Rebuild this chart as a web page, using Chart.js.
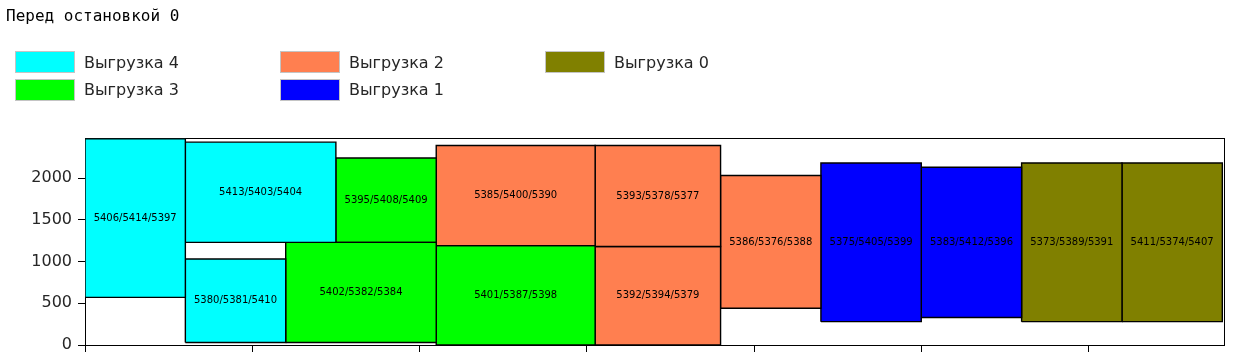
<!DOCTYPE html>
<html>
<head>
<meta charset="utf-8">
<script src="https://cdn.jsdelivr.net/npm/chart.js@4.4.1/dist/chart.umd.min.js"></script>
<style>
  html, body { margin: 0; padding: 0; background: #fff; }
  body { width: 1237px; height: 357px; position: relative; overflow: hidden; }
  #title { position: absolute; left: 6px; top: 6px; font: 16px "DejaVu Sans Mono", monospace; color: #000; white-space: pre; }
  #legend { position: absolute; left: 15px; top: 51px; display: grid; grid-template-rows: 22px 22px; grid-auto-flow: column; grid-auto-columns: 265px; row-gap: 5.6px; }
  .item { display: flex; align-items: center; font: 16px "DejaVu Sans", sans-serif; color: #262626; }
  .patch { width: 58px; height: 20px; border: 1px solid #c4c4c4; margin-right: 9px; flex: none; }
  #wrap { position: absolute; left: 0; top: 0; width: 1237px; height: 361px; }
</style>
</head>
<body>
<div id="wrap"><canvas id="c" width="1237" height="361"></canvas></div>
<div id="title">Перед остановкой 0</div>
<div id="legend"></div>
<script>
const titleText = 'Перед остановкой 0';
const groupNames = ['Выгрузка 4', 'Выгрузка 3', 'Выгрузка 2', 'Выгрузка 1', 'Выгрузка 0'];
const groupIds = [4, 3, 2, 1, 0];
const groupColors = ['#00ffff', '#00ff00', '#ff7f50', '#0000ff', '#808000'];

const boxLabels = ['5406/5414/5397', '5413/5403/5404', '5380/5381/5410', '5402/5382/5384', '5395/5408/5409',
  '5385/5400/5390', '5401/5387/5398', '5393/5378/5377', '5392/5394/5379', '5386/5376/5388',
  '5375/5405/5399', '5383/5412/5396', '5373/5389/5391', '5411/5374/5407'];
const boxGroup = [4, 4, 4, 3, 3, 2, 3, 2, 2, 2, 1, 1, 0, 0];
const xStart = [0, 1200, 1200, 2400, 3000, 4200, 4200, 6100, 6100, 7600, 8800, 10000, 11200, 12400];
const xEnd = [1200, 3000, 2400, 4200, 4200, 6100, 6100, 7600, 7600, 8800, 10000, 11200, 12400, 13600];
const yStart = [570, 1230, 30, 30, 1230, 1190, 0, 1180, 0, 440, 280, 330, 280, 280];
const yEnd = [2470, 2430, 1030, 1230, 2240, 2390, 1190, 2390, 1180, 2030, 2180, 2130, 2180, 2180];

const xTickValues = [0, 2000, 4000, 6000, 8000, 10000, 12000];
const yTickValues = [0, 500, 1000, 1500, 2000];
const xMin = 0, xMax = 13620;
const yMin = 0, yMax = 2480;

document.getElementById('title').textContent = titleText;

// HTML legend
const legendEl = document.getElementById('legend');
groupIds.forEach((g, i) => {
  const it = document.createElement('div');
  it.className = 'item';
  const p = document.createElement('div');
  p.className = 'patch';
  p.style.background = groupColors[i];
  const t = document.createElement('span');
  t.textContent = groupNames[i];
  it.appendChild(p); it.appendChild(t);
  legendEl.appendChild(it);
});

function colorOf(g) { return groupColors[groupIds.indexOf(g)]; }

const datasets = boxLabels.map((lab, i) => ({
  label: lab,
  data: [
    {x: xStart[i], y: yStart[i]},
    {x: xEnd[i], y: yStart[i]},
    {x: xEnd[i], y: yEnd[i]},
    {x: xStart[i], y: yEnd[i]},
    {x: xStart[i], y: yStart[i]}
  ],
  showLine: true,
  fill: 'shape',
  backgroundColor: colorOf(boxGroup[i]),
  borderColor: '#000',
  borderWidth: 1.4,
  pointRadius: 0,
  pointHoverRadius: 0,
  tension: 0
}));

const boxText = {
  id: 'boxText',
  afterDatasetsDraw(chart) {
    const {ctx, scales: {x, y}} = chart;
    ctx.save();
    ctx.font = '10px "DejaVu Sans", sans-serif';
    ctx.fillStyle = '#000';
    ctx.textAlign = 'center';
    ctx.textBaseline = 'middle';
    boxLabels.forEach((lab, i) => {
      const cx = x.getPixelForValue((xStart[i] + xEnd[i]) / 2);
      const cy = y.getPixelForValue((yStart[i] + yEnd[i]) / 2);
      ctx.fillText(lab, cx, cy);
    });
    ctx.restore();
  }
};

new Chart(document.getElementById('c'), {
  type: 'scatter',
  data: { datasets },
  plugins: [boxText],
  options: {
    responsive: false,
    animation: false,
    events: [],
    layout: { padding: { top: 138, right: 13, left: 0, bottom: 0 } },
    plugins: { legend: { display: false }, tooltip: { enabled: false } },
    scales: {
      x: {
        type: 'linear', position: 'bottom', min: xMin, max: xMax,
        afterBuildTicks(s) { s.ticks = xTickValues.map(v => ({value: v})); },
        ticks: { display: false },
        grid: { drawOnChartArea: false, drawTicks: true, tickLength: 7, tickColor: '#000', tickWidth: 1 },
        border: { display: true, color: '#000', width: 1 },
        afterFit(s) { s.height = 16; }
      },
      y: {
        type: 'linear', position: 'left', min: yMin, max: yMax,
        afterBuildTicks(s) { s.ticks = yTickValues.map(v => ({value: v})); },
        ticks: { color: '#262626', font: { family: 'DejaVu Sans', size: 16 }, padding: 6, callback: v => String(v) },
        grid: { drawOnChartArea: false, drawTicks: true, tickLength: 7, tickColor: '#000', tickWidth: 1 },
        border: { display: true, color: '#000', width: 1 },
        afterFit(s) { s.width = 85; }
      },
      xTop: {
        type: 'linear', position: 'top', min: xMin, max: xMax, display: true,
        ticks: { display: false },
        grid: { drawOnChartArea: false, drawTicks: false },
        border: { display: true, color: '#000', width: 1 },
        afterFit(s) { s.height = 0; }
      },
      yRight: {
        type: 'linear', position: 'right', min: yMin, max: yMax, display: true,
        ticks: { display: false },
        grid: { drawOnChartArea: false, drawTicks: false },
        border: { display: true, color: '#000', width: 1 },
        afterFit(s) { s.width = 0; }
      }
    }
  }
});
</script>
</body>
</html>
